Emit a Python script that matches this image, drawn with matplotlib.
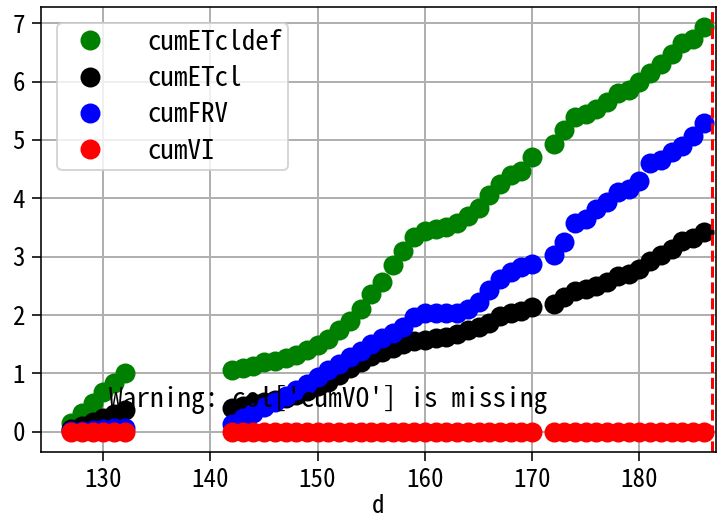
import matplotlib
matplotlib.use('Agg')
import matplotlib.pyplot as plt

plt.rcParams['font.family'] = ['Noto Sans Mono CJK SC', 'Noto Sans CJK SC', 'DejaVu Sans']
plt.rcParams['font.size'] = 12.5

days = [127, 128, 129, 130, 131, 132,
        142, 143, 144, 145, 146, 147, 148, 149, 150, 151, 152, 153, 154, 155,
        156, 157, 158, 159, 160, 161, 162, 163, 164, 165, 166, 167, 168, 169, 170,
        172, 173, 174, 175, 176, 177, 178, 179, 180, 181, 182, 183, 184, 185, 186]

cum_etcldef = [0.15, 0.32, 0.50, 0.68, 0.84, 1.01,
               1.06, 1.10, 1.13, 1.19, 1.22, 1.26, 1.31, 1.40, 1.48, 1.59, 1.74, 1.90, 2.10, 2.36,
               2.57, 2.85, 3.09, 3.33, 3.44, 3.47, 3.51, 3.57, 3.69, 3.83, 4.05, 4.25, 4.39, 4.47, 4.70,
               4.93, 5.17, 5.40, 5.45, 5.53, 5.65, 5.80, 5.86, 5.99, 6.14, 6.30, 6.47, 6.66, 6.73, 6.93]

cum_etcl = [0.04, 0.10, 0.17, 0.24, 0.30, 0.38,
            0.40, 0.45, 0.49, 0.51, 0.54, 0.57, 0.63, 0.70, 0.78, 0.86, 0.97, 1.09, 1.20, 1.29,
            1.36, 1.43, 1.50, 1.55, 1.58, 1.61, 1.63, 1.67, 1.74, 1.79, 1.87, 1.98, 2.04, 2.07, 2.13,
            2.19, 2.31, 2.42, 2.45, 2.50, 2.57, 2.66, 2.70, 2.79, 2.92, 3.02, 3.13, 3.26, 3.32, 3.43]

cum_frv = [0.01, 0.02, 0.03, 0.05, 0.06, 0.07,
           0.14, 0.24, 0.33, 0.42, 0.51, 0.61, 0.71, 0.82, 0.94, 1.05, 1.16, 1.28, 1.39, 1.50,
           1.60, 1.69, 1.80, 1.96, 2.04, 2.04, 2.03, 2.04, 2.10, 2.23, 2.43, 2.62, 2.73, 2.82, 2.87,
           3.02, 3.25, 3.57, 3.65, 3.82, 3.93, 4.10, 4.16, 4.30, 4.60, 4.65, 4.79, 4.89, 5.07, 5.29]

cum_vi = [0, 0, 0, 0, 0, 0,
          0, 0, 0, 0, 0, 0, 0, 0, 0, 0, 0, 0, 0, 0,
          0, 0, 0, 0, 0, 0, 0, 0, 0, 0, 0, 0, 0, 0, 0,
          0, 0, 0, 0, 0, 0, 0, 0, 0, 0, 0, 0, 0, 0, 0]

series = [('cumETcldef', cum_etcldef, 'green'),
          ('cumETcl', cum_etcl, 'black'),
          ('cumFRV', cum_frv, 'blue'),
          ('cumVI', cum_vi, 'red')]

fig, ax = plt.subplots(figsize=(725 / 144, 522 / 144), dpi=144)
fig.subplots_adjust(left=0.0566, right=0.9876, top=0.9866, bottom=0.1341)

for label, vals, col in series:
    ax.plot(days, vals, 'o', color=col, ms=9, label=label)

ax.axvline(186.8, color='red', ls='--', lw=1.5)
ax.set_xlim(124.2, 187.15)
ax.grid(True, color='#b0b0b0', lw=1)
ax.tick_params(length=4.5)
ax.set_xlabel('d', fontsize=12.5, labelpad=1)
ax.text(0.1, 0.1, "Warning: col['cumVO'] is missing", transform=ax.transAxes, fontsize=13.7)
ax.legend(loc='upper left', handletextpad=1.15, fontsize=13.5, labelspacing=0.35,
          borderpad=0.2, borderaxespad=0.6)

fig.savefig('out.png', dpi=144)
